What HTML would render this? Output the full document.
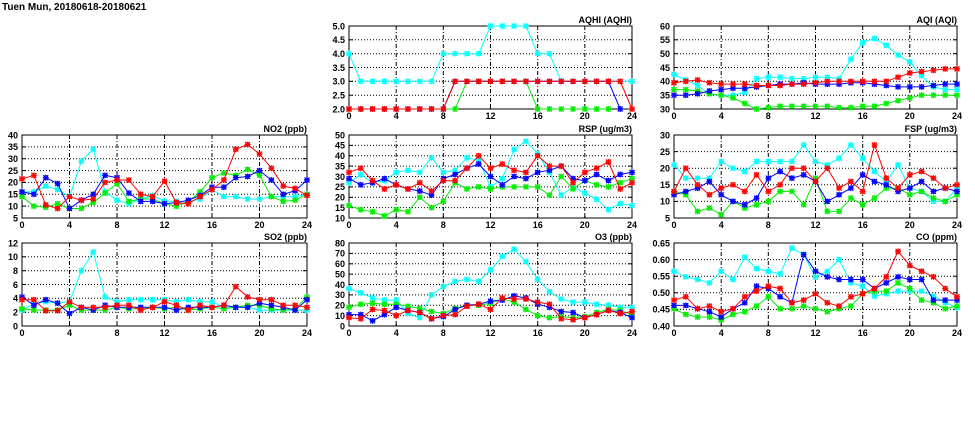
<!DOCTYPE html>
<html><head><meta charset="utf-8"><style>
html,body{margin:0;padding:0;background:#fff;width:975px;height:447px;overflow:hidden}
svg text{font-family:"Liberation Sans",sans-serif;font-weight:bold;font-size:9px;fill:#000}
</style></head><body>
<svg id="s" width="975" height="447" xmlns="http://www.w3.org/2000/svg">
<text x="2" y="10" style="font-size:10px">Tuen Mun, 20180618-20180621</text>
</svg>
<script>
const P=[
{t:"AQHI (AQHI)",x0:349,x1:632,y0:26,y1:109,lo:2,hi:5,st:0.5,fmt:v=>v.toFixed(1),d:[
[4,3,3,3,3,3,3,3,4,4,4,4,5,5,5,5,4,4,3,3,3,3,3,3,3],
[2,2,2,2,2,2,2,2,2,2,3,3,3,3,3,3,2,2,2,2,2,2,2,null,null],
[2,2,2,2,2,2,2,2,2,3,3,3,3,3,3,3,3,3,3,3,3,3,3,2,null],
[2,2,2,2,2,2,2,2,2,3,3,3,3,3,3,3,3,3,3,3,3,3,3,3,2]]},
{t:"AQI (AQI)",x0:674,x1:957,y0:26,y1:109,lo:30,hi:60,st:5,fmt:v=>v,d:[
[42.5,40.5,38.5,35.5,35,35,36,41,41.5,41.5,41,41,41.5,41.5,41,48,54,55.5,53,49.5,47,42,38,37,37],
[37,37,36.5,35.5,35,34,32,30,30.5,31,31,31,31,31,30.5,30.5,31,31,32,33,34,35,35,35,35],
[35,35,35.5,36.5,37,37.5,37.5,38,38.5,39,39,39.5,39,39,39,39.5,39.5,39,38.5,38,38,38,38.5,39,39],
[39.5,40,40.5,39.5,39,39,39,38.5,38.5,38.5,39,39,39.5,40,40,40,40,40,40,41.5,43,43.5,44,44.5,44.5]]},
{t:"NO2 (ppb)",x0:22,x1:307,y0:135,y1:218,lo:5,hi:40,st:5,fmt:v=>v,d:[
[16,16,18.5,17,14,29,34,16,12.5,11,13,14.5,12,12,12,13,17,14,14,13,13,14,14,14,15],
[14,10,9.5,11,9,9,11.5,15.5,19.5,12,13,13,11,10,12,16,22,24,23,25.5,23,14,12,12.5,15],
[16,15,22,19.5,9,12.5,15,23,22,15.5,12,12,11,11.5,12.5,14.5,18,18,22,22.5,25,21,15,16.5,21],
[21.5,23,10.5,9,14,12.5,13,20,21,21,15,14,20.5,11.5,11,14,17,21,34,36,32,26,18.5,17.5,14.5]]},
{t:"RSP (ug/m3)",x0:349,x1:632,y0:135,y1:218,lo:10,hi:50,st:5,fmt:v=>v,d:[
[27,31,27,28,32,33,32,39,32,33,39,38,25,29,43,47,41,32,21,25,22,19,14,17,16],
[16,14,13,11,14,13,20,15,18,27,24,25,24,25,25,25,25,21,30,24,28,26,25,27,29],
[29,26,27,29,26,24,23,21,29,31,34,36,30,26,30,29,32,33,35,29,28,31,28,31,32],
[32,34,28,24,26,24,27,23,28,28,34,40,34,36,33,32,40,35,35,27,32,34,37,24,27]]},
{t:"FSP (ug/m3)",x0:674,x1:957,y0:135,y1:218,lo:5,hi:30,st:5,fmt:v=>v,d:[
[21,17,17,17,22,20,19,22,22,22,22,27,22,21,23,27,23,19,16,21,14,13,10,10,14],
[13,12,7,8,6,10,8,9,10,13,13,9,17,7,7,11,9,11,14,14,12,13,11,10,12],
[12,13,14,16,12,10,9,11,17,19,17,18,16,10,12,14,18,16,15,13,14,16,13,14,13],
[13,20,15,12,14,15,13,18,13,15,20,20,16,20,14,16,13,27,17,14,18,19,17,14,15]]},
{t:"SO2 (ppb)",x0:22,x1:307,y0:243,y1:326,lo:0,hi:12,st:2,fmt:v=>v,d:[
[2.3,3.2,3.5,3.3,3.5,8,10.7,4.2,3.5,3.8,3.8,3.8,3.8,3.5,3.8,3.5,3.5,2.7,2.7,2.7,2.3,2.3,2.3,2.3,2.3],
[2.5,2.3,2.3,2.3,3,2.3,2.3,2.3,2.7,2.5,2.5,2.7,2.5,2.7,2.3,2.5,2.7,2.5,2.7,3,3,2.5,2.3,2.5,4.2],
[4.2,3,3.8,3.3,1.8,2.7,2.3,3,2.7,2.7,2.7,2.7,2.7,2.3,2.7,2.7,2.7,3,2.7,2.7,3.3,3,2.7,2.3,3.8],
[3.8,3.8,2.2,2.2,3.5,2.7,2.7,2.7,3,3,2.3,2.7,3.5,3,2.3,3,2.7,3,5.7,4.2,3.8,3.8,3,3,2.7]]},
{t:"O3 (ppb)",x0:349,x1:632,y0:243,y1:326,lo:0,hi:80,st:10,fmt:v=>v,d:[
[36,32,27,25,25,12,8,30,38,43,45,43,54,67,74,62,45,33,26,23,23,21,20,18,18],
[18,21,22,21,21,19,17,14,12,17,20,20,22,26,23,16,10,8,9,8,9,13,16,15,11],
[11,11,5,11,18,15,13,7,9,16,20,21,24,25,29,27,21,18,14,13,8,11,15,13,8],
[8,7,16,15,10,15,13,7,10,11,19,21,16,27,26,26,23,21,7,6,8,11,15,12,14]]},
{t:"CO (ppm)",x0:674,x1:957,y0:243,y1:326,lo:0.4,hi:0.65,st:0.05,fmt:v=>v.toFixed(2),d:[
[.565,.548,.54,.53,.565,.54,.607,.573,.565,.557,.635,.615,.547,.565,.6,.53,.52,.49,.497,.505,.505,.505,.49,.47,.455],
[.452,.435,.427,.427,.418,.435,.443,.46,.488,.452,.452,.46,.452,.443,.452,.46,.497,.505,.505,.53,.513,.478,.47,.452,.46],
[.462,.462,.452,.443,.427,.452,.47,.52,.513,.488,.47,.615,.565,.548,.54,.54,.54,.513,.53,.548,.54,.54,.478,.478,.478],
[.478,.488,.452,.46,.443,.452,.488,.505,.52,.513,.47,.478,.497,.47,.46,.488,.497,.513,.548,.625,.582,.565,.548,.513,.488]]}
];
const C=["#00ffff","#00ee00","#0000ff","#ff0000"];
let h="";
for(const p of P){
 const X=i=>p.x0+(p.x1-p.x0)*i/24, Y=v=>p.y1-(p.y1-p.y0)*(v-p.lo)/(p.hi-p.lo);
 const n=Math.round((p.hi-p.lo)/p.st);
 for(let k=0;k<=n;k++){const v=p.lo+k*p.st,y=Y(v).toFixed(1);
  if(k>0&&k<n)h+=`<line x1="${p.x0}" x2="${p.x1}" y1="${y}" y2="${y}" stroke="#000" stroke-width="1" stroke-dasharray="1,2"/>`;
  h+=`<line x1="${p.x0}" x2="${p.x0+4}" y1="${y}" y2="${y}" stroke="#000"/><line x1="${p.x1-4}" x2="${p.x1}" y1="${y}" y2="${y}" stroke="#000"/>`;
  h+=`<text x="${p.x0-4}" y="${(+y+3.3).toFixed(1)}" text-anchor="end">${p.fmt(+v.toFixed(3))}</text>`;}
 for(let i=0;i<=24;i+=4){const x=X(i).toFixed(1);
  if(i>0&&i<24)h+=`<line x1="${x}" x2="${x}" y1="${p.y0}" y2="${p.y1}" stroke="#000" stroke-dasharray="4,2,1,2"/>`;
  h+=`<line x1="${x}" x2="${x}" y1="${p.y1-4}" y2="${p.y1}" stroke="#000"/><text x="${x}" y="${p.y1+10}" text-anchor="middle">${i}</text>`;}
 h+=`<rect x="${p.x0}" y="${p.y0}" width="${p.x1-p.x0}" height="${p.y1-p.y0}" fill="none" stroke="#000"/>`;
 h+=`<text x="${p.x1}" y="${p.y0-3}" text-anchor="end">${p.t}</text>`;
 p.d.forEach((s,j)=>{let pts=[];s.forEach((v,i)=>{if(v!==null)pts.push([X(i),Y(v)])});
  h+=`<polyline fill="none" stroke="${C[j]}" stroke-width="1" points="${pts.map(q=>q[0].toFixed(1)+','+q[1].toFixed(1)).join(' ')}"/>`;
  for(const [x,y] of pts){h+=`<path d="M${x-2.5} ${y-2.5}L${x+2.5} ${y+2.5}M${x-2.5} ${y+2.5}L${x+2.5} ${y-2.5}M${x-3} ${y}H${x+3}M${x} ${y-3}V${y+3}" stroke="${C[j]}" stroke-width="1"/><rect x="${x-2}" y="${y-2}" width="4" height="4" fill="none" stroke="${C[j]}" stroke-width="0.7"/>`;}
 });
}
document.getElementById("s").insertAdjacentHTML("beforeend",h);
</script>
</body></html>
